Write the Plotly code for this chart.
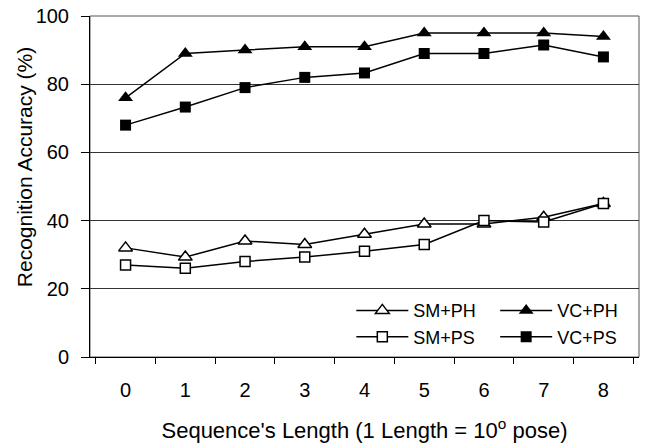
import plotly.graph_objects as go

lengths = ["0", "1", "2", "3", "4", "5", "6", "7", "8"]
sm_ph = [32, 29.3, 34, 33, 36, 39, 39, 41, 45]
vc_ph = [76, 89, 90, 91, 91, 95, 95, 95, 94]
sm_ps = [27, 26, 28, 29.3, 31, 33, 40, 39.6, 45]
vc_ps = [68, 73.3, 79, 82, 83.3, 89, 89, 91.5, 88]

FONT = "Liberation Sans, Arial, sans-serif"

fig = go.Figure()
fig.add_trace(go.Scatter(x=lengths, y=sm_ph, name="SM+PH", mode="lines+markers",
                         line=dict(color="black", width=1.5),
                         marker=dict(symbol="triangle-up", size=12, color="white",
                                     line=dict(color="black", width=1.5)),
                         legend="legend"))
fig.add_trace(go.Scatter(x=lengths, y=sm_ps, name="SM+PS", mode="lines+markers",
                         line=dict(color="black", width=1.5),
                         marker=dict(symbol="square", size=10, color="white",
                                     line=dict(color="black", width=1.5)),
                         legend="legend"))
fig.add_trace(go.Scatter(x=lengths, y=vc_ph, name="VC+PH", mode="lines+markers",
                         line=dict(color="black", width=1.5),
                         marker=dict(symbol="triangle-up", size=13, color="black"),
                         legend="legend2"))
fig.add_trace(go.Scatter(x=lengths, y=vc_ps, name="VC+PS", mode="lines+markers",
                         line=dict(color="black", width=1.5),
                         marker=dict(symbol="square", size=11, color="black"),
                         legend="legend2"))

legend_common = dict(font=dict(family=FONT, size=18, color="black"),
                     bgcolor="rgba(0,0,0,0)", yref="paper", yanchor="top",
                     xanchor="left", itemwidth=52, tracegroupgap=0)
fig.update_layout(
    width=651, height=448,
    margin=dict(l=90, r=12, t=16, b=91, autoexpand=False),
    paper_bgcolor="white", plot_bgcolor="white",
    font=dict(family=FONT, size=18, color="black"),
    showlegend=True,
    legend=dict(x=0.476, y=0.19, **legend_common),
    legend2=dict(x=0.738, y=0.19, **legend_common),
    xaxis=dict(type="category", tickson="boundaries", ticks="outside", ticklen=6,
               tickcolor="black", showline=True, linecolor="black", linewidth=1,
               mirror=False, showgrid=False, automargin=False, ticklabelstandoff=15,
               title=dict(text="Sequence's Length (1 Length = 10<sup>o</sup> pose)",
                          font=dict(size=22), standoff=22),
               tickfont=dict(size=20)),
    yaxis=dict(range=[0, 100], dtick=20, ticks="outside", ticklen=8, tickcolor="black",
               showline=True, linecolor="black", linewidth=1, automargin=False,
               ticklabelstandoff=8,
               showgrid=True, gridcolor="#333333", gridwidth=1, zeroline=False,
               tickfont=dict(size=20)),
)
fig.add_annotation(text="Recognition Accuracy (%)", textangle=-90, showarrow=False,
                   xref="paper", yref="paper", x=-0.12, y=0.557,
                   xanchor="center", yanchor="middle", font=dict(size=21))
# frame: top and right borders
fig.add_shape(type="rect", xref="paper", yref="paper", x0=0, x1=1, y0=0, y1=1,
              line=dict(color="#555555", width=1), layer="below")

fig.write_html("out.html", config={"displayModeBar": False},
               post_script="document.body.style.margin='0px';document.body.style.overflow='hidden';")
